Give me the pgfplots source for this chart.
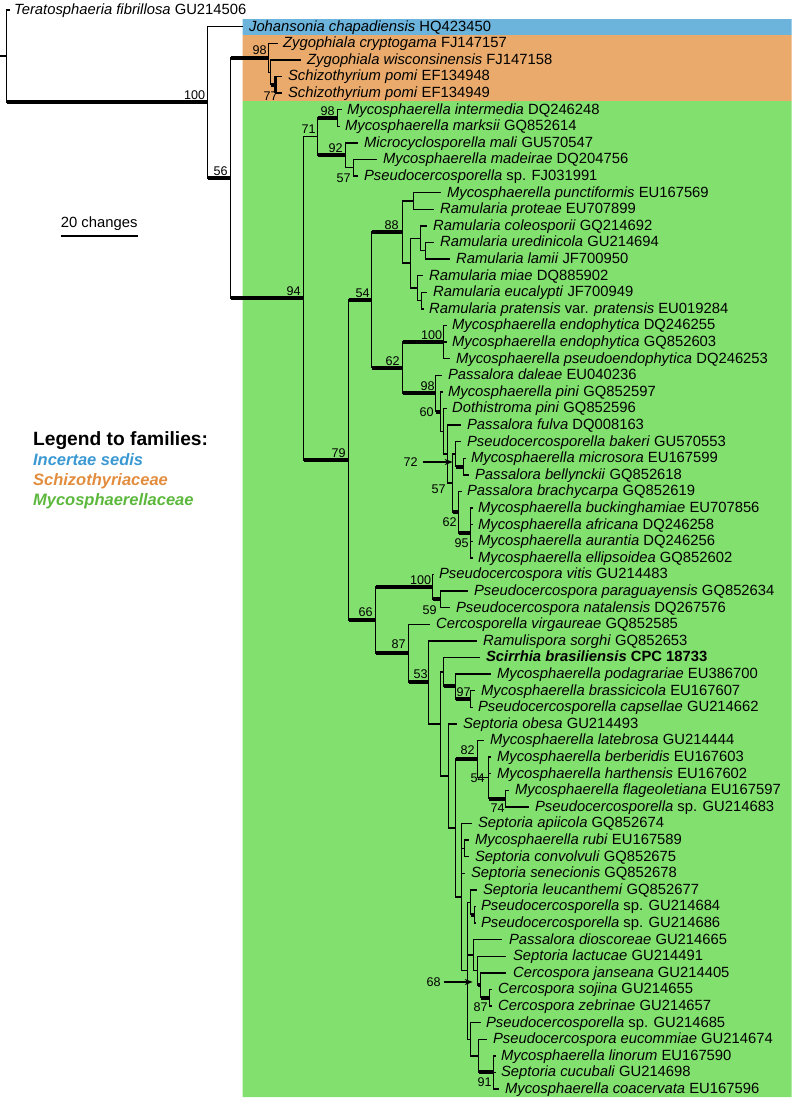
\documentclass[border=0pt]{standalone}
\usepackage{fontspec}
\setmainfont{Liberation Sans}
\usepackage{pgfplots}
\pgfplotsset{compat=1.18}
\usetikzlibrary{arrows.meta}
\definecolor{bgblue}{RGB}{108,180,220}
\definecolor{bgorange}{RGB}{233,170,108}
\definecolor{bggreen}{RGB}{130,225,110}
\definecolor{lgblue}{RGB}{58,152,210}
\definecolor{lgorange}{RGB}{226,140,62}
\definecolor{lggreen}{RGB}{92,184,60}
\newcommand{\leaffont}{\fontsize{7.4}{8}\selectfont}
\newcommand{\lf}[3]{\node[anchor=base west,inner sep=0pt,yshift=-2.25pt,font=\leaffont] at (axis cs:#1,#2) {#3};}
\newcommand{\bs}[3]{\node[inner sep=0pt,font=\fontsize{6.3}{7}\selectfont] at (axis cs:#1,#2) {#3};}
\begin{document}
\begin{tikzpicture}
\begin{axis}[scale only axis, width=395.5pt, height=549.5pt,
  xmin=0, xmax=791, ymin=0, ymax=1099, y dir=reverse,
  hide axis, clip=false, unbounded coords=jump]
\path (axis cs:0,0) rectangle (axis cs:791,1099);
% family boxes
\addplot[draw=none, fill=bgblue] coordinates {(242,19) (791,19) (791,35) (242,35) (242,19)};
\addplot[draw=none, fill=bgorange] coordinates {(242,35) (791,35) (791,101) (242,101) (242,35)};
\addplot[draw=none, fill=bggreen] coordinates {(242,101) (791,101) (791,1097) (242,1097) (242,101)};
% thin lines: verticals
\addplot[black, line width=0.7pt, line cap=rect] coordinates {
(6,10) (6,102.3) (nan,nan)
(0,56.15) (6,56.15) (nan,nan)
(207,26.6) (207,178) (nan,nan)
(230,57.7) (230,298.3) (nan,nan)
(268,43.2) (268,72.25) (nan,nan)
(270,59.8) (270,84.7) (nan,nan)
(303,136.6) (303,459.95) (nan,nan)
(317,117.9) (317,155.25) (nan,nan)
(337,109.6) (337,126.2) (nan,nan)
(345,142.8) (345,167.7) (nan,nan)
(353,159.4) (353,176) (nan,nan)
(348,299.85) (348,620.1) (nan,nan)
(371,232) (371,367.7) (nan,nan)
(402,200.9) (402,263.15) (nan,nan)
(413,192.6) (413,209.2) (nan,nan)
(410,238.25) (410,288.05) (nan,nan)
(420,225.8) (420,250.7) (nan,nan)
(425,242.4) (425,259) (nan,nan)
(417,275.6) (417,300.5) (nan,nan)
(421,292.2) (421,308.8) (nan,nan)
(402,342) (402,393.35) (nan,nan)
(443,325.4) (443,358.6) (nan,nan)
(435,375.2) (435,411.5) (nan,nan)
(440,391.8) (440,431.2) (nan,nan)
(443,408.4) (443,454.05) (nan,nan)
(447,425) (447,483.1) (nan,nan)
(452,454.05) (452,512.15) (nan,nan)
(455,441.6) (455,466.5) (nan,nan)
(463,458.2) (463,474.8) (nan,nan)
(458,491.4) (458,532.9) (nan,nan)
(470,508) (470,557.8) (nan,nan)
(375,586.85) (375,653.3) (nan,nan)
(432,574.4) (432,599.3) (nan,nan)
(440,591) (440,607.6) (nan,nan)
(408,624.2) (408,682.35) (nan,nan)
(428,640.8) (428,723.9) (nan,nan)
(440,671.9) (440,775.95) (nan,nan)
(443,657.4) (443,686.45) (nan,nan)
(455,674) (455,698.9) (nan,nan)
(470,690.6) (470,707.2) (nan,nan)
(448,723.8) (448,828.1) (nan,nan)
(455,759.1) (455,897.05) (nan,nan)
(477,740.4) (477,777.75) (nan,nan)
(488,757) (488,798.5) (nan,nan)
(505,790.2) (505,806.8) (nan,nan)
(461,823.4) (461,970.7) (nan,nan)
(464,840) (464,856.6) (nan,nan)
(467,902.25) (467,1039.2) (nan,nan)
(470,889.8) (470,914.7) (nan,nan)
(474,906.4) (474,923) (nan,nan)
(473,939.6) (473,970.7) (nan,nan)
(477,956.2) (477,985.25) (nan,nan)
(480,972.8) (480,997.7) (nan,nan)
(489,989.4) (489,1006) (nan,nan)
(470,1022.6) (470,1055.8) (nan,nan)
(478,1039.2) (478,1072.4) (nan,nan)
(493,1055.8) (493,1089)
};
% thin lines: internal horizontals
\addplot[black, line width=0.7pt, line cap=rect] coordinates {
(268,72.25) (270,72.25) (nan,nan)
(303,136.6) (317,136.6) (nan,nan)
(345,167.7) (353,167.7) (nan,nan)
(402,200.9) (413,200.9) (nan,nan)
(402,263.15) (410,263.15) (nan,nan)
(410,238.25) (420,238.25) (nan,nan)
(420,250.7) (425,250.7) (nan,nan)
(410,288.05) (417,288.05) (nan,nan)
(417,300.5) (421,300.5) (nan,nan)
(440,431.2) (443,431.2) (nan,nan)
(443,454.05) (447,454.05) (nan,nan)
(447,483.1) (452,483.1) (nan,nan)
(452,454.05) (455,454.05) (nan,nan)
(428,723.9) (440,723.9) (nan,nan)
(440,671.9) (443,671.9) (nan,nan)
(440,775.95) (448,775.95) (nan,nan)
(448,828.1) (455,828.1) (nan,nan)
(477,777.75) (488,777.75) (nan,nan)
(455,897.05) (461,897.05) (nan,nan)
(461,848.3) (464,848.3) (nan,nan)
(461,970.7) (467,970.7) (nan,nan)
(467,902.25) (470,902.25) (nan,nan)
(467,955.15) (473,955.15) (nan,nan)
(473,970.7) (477,970.7) (nan,nan)
(467,1039.2) (470,1039.2) (nan,nan)
(470,1055.8) (478,1055.8)
};
% thin lines: terminal branches
\addplot[black, line width=0.7pt, line cap=rect] coordinates {
(6,10) (9,10) (nan,nan)
(207,26.6) (242,26.6) (nan,nan)
(268,43.2) (277,43.2) (nan,nan)
(270,59.8) (300,59.8) (nan,nan)
(275,76.4) (281,76.4) (nan,nan)
(275,93) (281,93) (nan,nan)
(337,109.6) (341,109.6) (nan,nan)
(337,126.2) (339,126.2) (nan,nan)
(345,142.8) (357,142.8) (nan,nan)
(353,159.4) (376,159.4) (nan,nan)
(353,176) (357,176) (nan,nan)
(413,192.6) (440,192.6) (nan,nan)
(413,209.2) (433,209.2) (nan,nan)
(420,225.8) (426,225.8) (nan,nan)
(425,242.4) (433,242.4) (nan,nan)
(425,259) (449,259) (nan,nan)
(417,275.6) (422,275.6) (nan,nan)
(421,292.2) (426,292.2) (nan,nan)
(421,308.8) (423,308.8) (nan,nan)
(443,325.4) (446,325.4) (nan,nan)
(443,342) (446,342) (nan,nan)
(443,358.6) (449,358.6) (nan,nan)
(435,375.2) (441,375.2) (nan,nan)
(440,391.8) (442,391.8) (nan,nan)
(443,408.4) (446,408.4) (nan,nan)
(447,425) (460,425) (nan,nan)
(455,441.6) (460,441.6) (nan,nan)
(463,458.2) (465,458.2) (nan,nan)
(463,474.8) (468,474.8) (nan,nan)
(458,491.4) (461,491.4) (nan,nan)
(470,508) (472,508) (nan,nan)
(470,524.6) (472,524.6) (nan,nan)
(470,541.2) (472,541.2) (nan,nan)
(470,557.8) (472,557.8) (nan,nan)
(432,574.4) (433,574.4) (nan,nan)
(440,591) (467,591) (nan,nan)
(440,607.6) (449,607.6) (nan,nan)
(408,624.2) (429,624.2) (nan,nan)
(428,640.8) (476,640.8) (nan,nan)
(443,657.4) (479,657.4) (nan,nan)
(455,674) (490,674) (nan,nan)
(470,690.6) (474,690.6) (nan,nan)
(470,707.2) (472,707.2) (nan,nan)
(448,723.8) (456,723.8) (nan,nan)
(477,740.4) (483,740.4) (nan,nan)
(488,757) (490,757) (nan,nan)
(488,773.6) (490,773.6) (nan,nan)
(505,790.2) (508,790.2) (nan,nan)
(505,806.8) (528,806.8) (nan,nan)
(461,823.4) (471,823.4) (nan,nan)
(464,840) (468,840) (nan,nan)
(464,856.6) (468,856.6) (nan,nan)
(461,873.2) (464,873.2) (nan,nan)
(470,889.8) (476,889.8) (nan,nan)
(474,906.4) (475,906.4) (nan,nan)
(474,923) (475,923) (nan,nan)
(473,939.6) (501,939.6) (nan,nan)
(477,956.2) (505,956.2) (nan,nan)
(480,972.8) (505,972.8) (nan,nan)
(489,989.4) (491,989.4) (nan,nan)
(489,1006) (491,1006) (nan,nan)
(470,1022.6) (480,1022.6) (nan,nan)
(478,1039.2) (486,1039.2) (nan,nan)
(493,1055.8) (495,1055.8) (nan,nan)
(493,1072.4) (495,1072.4) (nan,nan)
(493,1089) (498,1089)
};
% thick (supported) branches
\addplot[black, line width=2pt] coordinates {
(6,102.3) (207,102.3) (nan,nan)
(207,178) (230,178) (nan,nan)
(230,57.7) (268,57.7) (nan,nan)
(270,84.7) (275,84.7) (nan,nan)
(230,298.3) (303,298.3) (nan,nan)
(317,117.9) (337,117.9) (nan,nan)
(317,155.25) (345,155.25) (nan,nan)
(303,459.95) (348,459.95) (nan,nan)
(348,299.85) (371,299.85) (nan,nan)
(371,232) (402,232) (nan,nan)
(371,367.7) (402,367.7) (nan,nan)
(402,342) (443,342) (nan,nan)
(402,393.35) (435,393.35) (nan,nan)
(435,411.5) (440,411.5) (nan,nan)
(455,466.5) (463,466.5) (nan,nan)
(452,512.15) (458,512.15) (nan,nan)
(458,532.9) (470,532.9) (nan,nan)
(348,620.1) (375,620.1) (nan,nan)
(375,586.85) (432,586.85) (nan,nan)
(432,599.3) (440,599.3) (nan,nan)
(375,653.3) (408,653.3) (nan,nan)
(408,682.35) (428,682.35) (nan,nan)
(443,686.45) (455,686.45) (nan,nan)
(455,698.9) (470,698.9) (nan,nan)
(455,759.1) (477,759.1) (nan,nan)
(488,798.5) (505,798.5) (nan,nan)
(470,914.7) (474,914.7) (nan,nan)
(477,985.25) (480,985.25) (nan,nan)
(480,997.7) (489,997.7) (nan,nan)
(478,1072.4) (493,1072.4)
};
\addplot[black, line width=1.4pt] coordinates {(275,76.4) (275,93)};
% scale bar
\addplot[black, line width=0.7pt] coordinates {(60,236) (137,236)};
\node[inner sep=0pt,font=\leaffont] at (axis cs:98.5,224) {20 changes};
% arrows
\addplot[black, line width=0.6pt, -{Stealth[length=4pt,width=3pt]}] coordinates {(422,462) (452,462)};
\addplot[black, line width=0.6pt, -{Stealth[length=4pt,width=3pt]}] coordinates {(443,982) (472,982)};
% support values
\bs{194}{95}{100}
\bs{220}{171}{56}
\bs{259}{50}{98}
\bs{270}{96}{77}
\bs{293}{291}{94}
\bs{308}{129}{71}
\bs{327}{111}{98}
\bs{335}{148}{92}
\bs{343}{178}{57}
\bs{391}{225}{88}
\bs{362}{293}{54}
\bs{338}{453}{79}
\bs{431}{335}{100}
\bs{392}{361}{62}
\bs{427}{386}{98}
\bs{426}{412}{60}
\bs{410}{462}{72}
\bs{438}{489}{57}
\bs{449}{522}{62}
\bs{461}{543}{95}
\bs{420}{580}{100}
\bs{429}{610}{59}
\bs{365}{612}{66}
\bs{398}{644}{87}
\bs{420}{674}{53}
\bs{463}{692}{97}
\bs{467}{750}{82}
\bs{477}{778}{54}
\bs{497}{808}{74}
\bs{433}{982}{68}
\bs{480}{1007}{87}
\bs{484}{1082}{91}
% legend
\node[anchor=base west,inner sep=0pt,font=\fontsize{9.6}{10}\selectfont\bfseries] at (axis cs:32,445) {Legend to families:};
\node[anchor=base west,inner sep=0pt,font=\fontsize{8.25}{9}\selectfont\bfseries\itshape,text=lgblue] at (axis cs:32,465) {Incertae sedis};
\node[anchor=base west,inner sep=0pt,font=\fontsize{8.25}{9}\selectfont\bfseries\itshape,text=lgorange] at (axis cs:32,485) {Schizothyriaceae};
\node[anchor=base west,inner sep=0pt,font=\fontsize{8.25}{9}\selectfont\bfseries\itshape,text=lggreen] at (axis cs:32,505) {Mycosphaerellaceae};
% taxa
\lf{13}{10}{\textit{Teratosphaeria fibrillosa} GU214506}
\lf{248}{26.6}{\textit{Johansonia chapadiensis} HQ423450}
\lf{282}{43.2}{\textit{Zygophiala cryptogama} FJ147157}
\lf{306}{59.8}{\textit{Zygophiala wisconsinensis} FJ147158}
\lf{287}{76.4}{\textit{Schizothyrium pomi} EF134948}
\lf{287}{93}{\textit{Schizothyrium pomi} EF134949}
\lf{346}{109.6}{\textit{Mycosphaerella intermedia} DQ246248}
\lf{344}{126.2}{\textit{Mycosphaerella marksii} GQ852614}
\lf{363}{142.8}{\textit{Microcyclosporella mali} GU570547}
\lf{382}{159.4}{\textit{Mycosphaerella madeirae} DQ204756}
\lf{363}{176}{\textit{Pseudocercosporella} sp. FJ031991}
\lf{446}{192.6}{\textit{Mycosphaerella punctiformis} EU167569}
\lf{439}{209.2}{\textit{Ramularia proteae} EU707899}
\lf{432}{225.8}{\textit{Ramularia coleosporii} GQ214692}
\lf{439}{242.4}{\textit{Ramularia uredinicola} GU214694}
\lf{455}{259}{\textit{Ramularia lamii} JF700950}
\lf{428}{275.6}{\textit{Ramularia miae} DQ885902}
\lf{432}{292.2}{\textit{Ramularia eucalypti} JF700949}
\lf{428}{308.8}{\textit{Ramularia pratensis} var. \textit{pratensis} EU019284}
\lf{451}{325.4}{\textit{Mycosphaerella endophytica} DQ246255}
\lf{451}{342}{\textit{Mycosphaerella endophytica} GQ852603}
\lf{455}{358.6}{\textit{Mycosphaerella pseudoendophytica} DQ246253}
\lf{447}{375.2}{\textit{Passalora daleae} EU040236}
\lf{447}{391.8}{\textit{Mycosphaerella pini} GQ852597}
\lf{451}{408.4}{\textit{Dothistroma pini} GQ852596}
\lf{466}{425}{\textit{Passalora fulva} DQ008163}
\lf{466}{441.6}{\textit{Pseudocercosporella bakeri} GU570553}
\lf{470}{458.2}{\textit{Mycosphaerella microsora} EU167599}
\lf{474}{474.8}{\textit{Passalora bellynckii} GQ852618}
\lf{466}{491.4}{\textit{Passalora brachycarpa} GQ852619}
\lf{477}{508}{\textit{Mycosphaerella buckinghamiae} EU707856}
\lf{477}{524.6}{\textit{Mycosphaerella africana} DQ246258}
\lf{477}{541.2}{\textit{Mycosphaerella aurantia} DQ246256}
\lf{477}{557.8}{\textit{Mycosphaerella ellipsoidea} GQ852602}
\lf{438}{574.4}{\textit{Pseudocercospora vitis} GU214483}
\lf{473}{591}{\textit{Pseudocercospora paraguayensis} GQ852634}
\lf{455}{607.6}{\textit{Pseudocercospora natalensis} DQ267576}
\lf{435}{624.2}{\textit{Cercosporella virgaureae} GQ852585}
\lf{482}{640.8}{\textit{Ramulispora sorghi} GQ852653}
\lf{485}{657.4}{\textbf{\textit{Scirrhia brasiliensis} CPC 18733}}
\lf{496}{674}{\textit{Mycosphaerella podagrariae} EU386700}
\lf{480}{690.6}{\textit{Mycosphaerella brassicicola} EU167607}
\lf{477}{707.2}{\textit{Pseudocercosporella capsellae} GU214662}
\lf{462}{723.8}{\textit{Septoria obesa} GU214493}
\lf{489}{740.4}{\textit{Mycosphaerella latebrosa} GU214444}
\lf{496}{757}{\textit{Mycosphaerella berberidis} EU167603}
\lf{496}{773.6}{\textit{Mycosphaerella harthensis} EU167602}
\lf{514}{790.2}{\textit{Mycosphaerella flageoletiana} EU167597}
\lf{534}{806.8}{\textit{Pseudocercosporella} sp. GU214683}
\lf{477}{823.4}{\textit{Septoria apiicola} GQ852674}
\lf{474}{840}{\textit{Mycosphaerella rubi} EU167589}
\lf{474}{856.6}{\textit{Septoria convolvuli} GQ852675}
\lf{470}{873.2}{\textit{Septoria senecionis} GQ852678}
\lf{482}{889.8}{\textit{Septoria leucanthemi} GQ852677}
\lf{480}{906.4}{\textit{Pseudocercosporella} sp. GU214684}
\lf{480}{923}{\textit{Pseudocercosporella} sp. GU214686}
\lf{508}{939.6}{\textit{Passalora dioscoreae} GU214665}
\lf{512}{956.2}{\textit{Septoria lactucae} GU214491}
\lf{512}{972.8}{\textit{Cercospora janseana} GU214405}
\lf{497}{989.4}{\textit{Cercospora sojina} GU214655}
\lf{497}{1006}{\textit{Cercospora zebrinae} GU214657}
\lf{485}{1022.6}{\textit{Pseudocercosporella} sp. GU214685}
\lf{492}{1039.2}{\textit{Pseudocercospora eucommiae} GU214674}
\lf{500}{1055.8}{\textit{Mycosphaerella linorum} EU167590}
\lf{500}{1072.4}{\textit{Septoria cucubali} GU214698}
\lf{504}{1089}{\textit{Mycosphaerella coacervata} EU167596}
\end{axis}
\end{tikzpicture}
\end{document}
